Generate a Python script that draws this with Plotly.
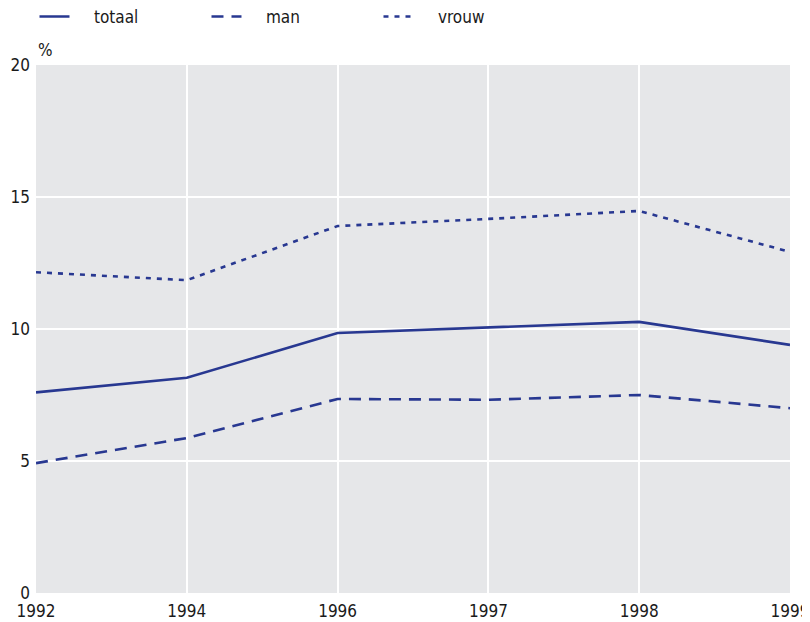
import plotly.graph_objects as go

years = ["1992", "1994", "1996", "1997", "1998", "1999"]
totaal = [7.6, 8.15, 9.85, 10.05, 10.27, 9.4]
man = [4.92, 5.87, 7.35, 7.32, 7.5, 7.0]
vrouw = [12.15, 11.85, 13.9, 14.17, 14.47, 12.92]
y_ticks = [0, 5, 10, 15, 20]
names = ["totaal", "man", "vrouw"]

color = "#283891"
font = "DejaVu Sans Condensed, Liberation Sans Narrow, Liberation Sans, Arial, sans-serif"
txt = "#1a1a1a"
pad = "\u00a0" * 4

fig = go.Figure()
fig.add_trace(go.Scatter(x=years, y=totaal, name=pad + names[0], mode="lines",
                         line=dict(color=color, width=2.6)))
fig.add_trace(go.Scatter(x=years, y=man, name=pad + names[1], mode="lines",
                         line=dict(color=color, width=2.6, dash="12px,8px")))
fig.add_trace(go.Scatter(x=years, y=vrouw, name=pad + names[2], mode="lines",
                         line=dict(color=color, width=2.6, dash="5px,6px")))

# page body has an 8px margin, so the figure is sized to end at the window edge
fig.update_layout(
    width=802, height=614,
    margin=dict(l=28, r=20, t=57, b=29, autoexpand=False),
    paper_bgcolor="white",
    plot_bgcolor="#e6e7e9",
    font=dict(family=font, size=17, color=txt),
    showlegend=True,
    legend=dict(orientation="h", x=-0.002, xanchor="left", y=1.0909, yanchor="middle",
                entrywidth=127, entrywidthmode="pixels",
                font=dict(family=font, size=17, color=txt),
                bgcolor="rgba(0,0,0,0)"),
    xaxis=dict(type="category", range=[0, 5], showgrid=True, gridcolor="white",
               gridwidth=2, zeroline=False, showline=False, ticks="",
               ticklabelstandoff=6, automargin=False, fixedrange=True),
    yaxis=dict(range=[0, 20], tickvals=y_ticks, showgrid=True, gridcolor="white",
               gridwidth=2, zeroline=False, showline=False, ticks="",
               ticklabelstandoff=5, automargin=False, fixedrange=True),
    annotations=[dict(text="%", xref="paper", yref="paper", x=0, y=1.0,
                      xanchor="left", yanchor="bottom", yshift=3, showarrow=False,
                      font=dict(family=font, size=17, color=txt))],
)

fig.write_html("out.html")
